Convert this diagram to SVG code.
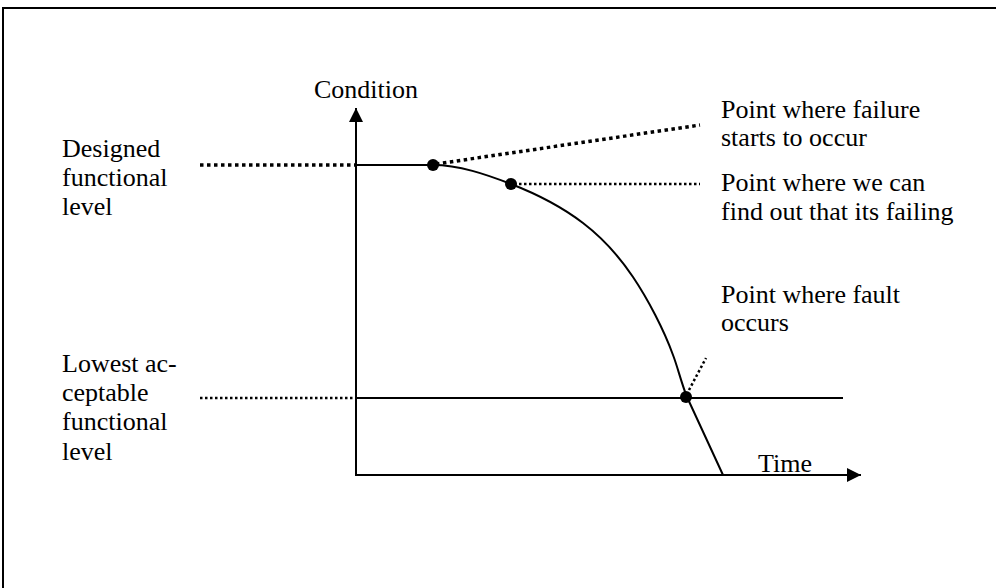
<svg xmlns="http://www.w3.org/2000/svg" width="996" height="588" viewBox="0 0 996 588">
<style>
.t{font-family:'Liberation Serif','Times New Roman',Times,serif;font-size:26px;fill:#000}
.solid{stroke:#000;stroke-width:2;fill:none}
.dotb{stroke:#000;stroke-width:3.5;stroke-dasharray:3.5 3.5;fill:none}
.dotf{stroke:#000;stroke-width:2.5;stroke-dasharray:2.5 2.5;fill:none}
.pt{fill:#000}
</style>
<defs>
<marker id="ah" viewBox="0 0 10 10" refX="10" refY="5" markerWidth="7" markerHeight="7" markerUnits="strokeWidth" orient="auto">
<path d="M0,0 L10,5 L0,10 z" fill="#000"/>
</marker>
</defs>
<rect x="3" y="8" width="1000" height="600" fill="#fff" stroke="#000" stroke-width="2"/>
<g id="connectors">
<line id="y-axis" class="solid" x1="356" y1="476" x2="356" y2="108" marker-end="url(#ah)"/>
<line id="x-axis" class="solid" x1="355" y1="475" x2="861" y2="475" marker-end="url(#ah)"/>
<line class="dotb" x1="200" y1="165" x2="356" y2="165"/>
<line class="dotf" x1="200" y1="398" x2="356" y2="398"/>
<line class="solid" x1="356" y1="398" x2="843" y2="398"/>
<path id="curve" class="solid" d="M356,165 L433,165 C459,165 486,174.3 511,184 C536,193.7 562.7,207.5 583,223 C603.3,238.5 618,254.7 633,277 C648,299.3 664,330 673,355 C678,368 681,382 687,397 L723,475"/>
<line class="dotb" x1="436" y1="164" x2="700" y2="125"/>
<line class="dotf" x1="514" y1="184" x2="700" y2="184"/>
<line class="dotf" x1="689" y1="390" x2="706" y2="358"/>
</g>
<g id="axis-labels" class="t" font-family="'Liberation Serif', serif">
<text x="314" y="98">Condition</text>
<text x="758" y="472">Time</text>
</g>
<g id="designed-level" class="t" font-family="'Liberation Serif', serif">
<text x="62" y="157">Designed</text>
<text x="62" y="186">functional</text>
<text x="62" y="215">level</text>
</g>
<g id="lowest-level" class="t" font-family="'Liberation Serif', serif">
<text x="62" y="372">Lowest ac-</text>
<text x="62" y="401">ceptable</text>
<text x="62" y="430">functional</text>
<text x="62" y="460">level</text>
</g>
<g id="failure-start" class="t" font-family="'Liberation Serif', serif">
<circle class="pt" cx="433" cy="165" r="6"/>
<text x="721" y="118">Point where failure</text>
<text x="721" y="146">starts to occur</text>
</g>
<g id="detect-point" class="t" font-family="'Liberation Serif', serif">
<circle class="pt" cx="511" cy="184" r="6"/>
<text x="721" y="191">Point where we can</text>
<text x="721" y="220">find out that its failing</text>
</g>
<g id="fault-point" class="t" font-family="'Liberation Serif', serif">
<circle class="pt" cx="686" cy="397" r="6"/>
<text x="721" y="303">Point where fault</text>
<text x="721" y="331">occurs</text>
</g>
</svg>
